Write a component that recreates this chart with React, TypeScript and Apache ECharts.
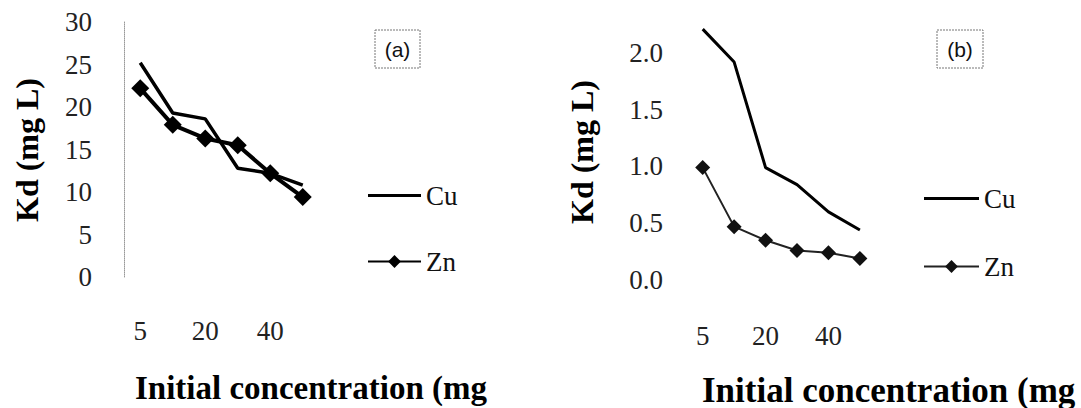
import React, { useEffect, useRef } from 'react';
import * as echarts from 'echarts';

const categories = ['5', '10', '20', '30', '40', '50'];
const cuA = [25.2, 19.3, 18.6, 12.8, 12.2, 10.8];
const znA = [22.2, 17.9, 16.3, 15.5, 12.2, 9.4];
const cuB = [2.21, 1.92, 0.99, 0.84, 0.6, 0.44];
const znB = [0.99, 0.47, 0.35, 0.26, 0.24, 0.19];
const yTitle = 'Kd (mg L)';
const xTitle = 'Initial concentration (mg';
const panelLabels = ['(a)', '(b)'];

const SERIF = 'Liberation Serif';
const SANS = 'Liberation Sans';
const CU_ICON = 'path://M0,0 M55,16 M0,6.5 L55,6.5 L55,9.5 L0,9.5 Z';

export default function App() {
  const ref = useRef<HTMLDivElement>(null);
  useEffect(() => {
    if (!ref.current) return;
    const chart = echarts.init(ref.current, undefined, { renderer: 'svg' });
    const tickText = { fontFamily: SERIF, fontSize: 27, color: '#222' };
    const option: any = {
      animation: false,
      backgroundColor: '#fff',
      textStyle: { fontFamily: SERIF },
      grid: [
        { left: 124, top: 22, width: 195, height: 255 },
        { left: 687, top: 24.6, width: 188.6, height: 255.4 },
      ],
      xAxis: [0, 1].map((i) => ({
        type: 'category',
        gridIndex: i,
        data: categories,
        boundaryGap: true,
        axisLine: { show: false },
        axisTick: { show: false },
        splitLine: { show: false },
        axisLabel: { ...tickText, interval: 1, margin: i === 0 ? 40 : 42 },
      })),
      yAxis: [
        {
          type: 'value',
          gridIndex: 0,
          min: 0,
          max: 30,
          interval: 5,
          axisLine: { show: true, lineStyle: { color: '#999', type: 'dotted', width: 1 } },
          axisTick: { show: false },
          splitLine: { show: false },
          axisLabel: { ...tickText, margin: 32 },
        },
        {
          type: 'value',
          gridIndex: 1,
          min: 0,
          max: 2.25,
          interval: 0.5,
          axisLine: { show: false },
          axisTick: { show: false },
          splitLine: { show: false },
          axisLabel: {
            ...tickText,
            margin: 24,
            showMaxLabel: false,
            formatter: (v: number) => v.toFixed(1),
          },
        },
      ],
      legend: [
        {
          orient: 'vertical',
          left: 362,
          top: 177,
          itemWidth: 53,
          itemHeight: 16,
          itemGap: 39,
          data: [{ name: 'Cu_a', icon: CU_ICON }, { name: 'Zn_a' }],
          formatter: (n: string) => n.split('_')[0],
          textStyle: { fontFamily: SERIF, fontSize: 27, color: '#111' },
        },
        {
          orient: 'vertical',
          left: 918,
          top: 180,
          itemWidth: 55,
          itemHeight: 16,
          itemGap: 41,
          data: [{ name: 'Cu_b', icon: CU_ICON }, { name: 'Zn_b' }],
          formatter: (n: string) => n.split('_')[0],
          textStyle: { fontFamily: SERIF, fontSize: 27, color: '#111' },
        },
      ],
      series: [
        {
          name: 'Cu_a', type: 'line', xAxisIndex: 0, yAxisIndex: 0, data: cuA,
          symbol: 'none', lineStyle: { color: '#000', width: 3.5 }, itemStyle: { color: '#000' },
        },
        {
          name: 'Zn_a', type: 'line', xAxisIndex: 0, yAxisIndex: 0, data: znA,
          symbol: 'diamond', symbolSize: 18,
          lineStyle: { color: '#000', width: 4 }, itemStyle: { color: '#000' },
        },
        {
          name: 'Cu_b', type: 'line', xAxisIndex: 1, yAxisIndex: 1, data: cuB,
          symbol: 'none', lineStyle: { color: '#000', width: 3 }, itemStyle: { color: '#000' },
        },
        {
          name: 'Zn_b', type: 'line', xAxisIndex: 1, yAxisIndex: 1, data: znB,
          symbol: 'diamond', symbolSize: 15,
          lineStyle: { color: '#222', width: 2 }, itemStyle: { color: '#111' },
        },
      ],
      graphic: [
        {
          type: 'text', x: 27, y: 150, rotation: Math.PI / 2,
          style: { text: yTitle, fontFamily: SERIF, fontSize: 32, fontWeight: 'bold', fill: '#000', align: 'center', verticalAlign: 'middle' },
        },
        {
          type: 'text', x: 582, y: 152, rotation: Math.PI / 2,
          style: { text: yTitle, fontFamily: SERIF, fontSize: 32, fontWeight: 'bold', fill: '#000', align: 'center', verticalAlign: 'middle' },
        },
        {
          type: 'text', x: 135, y: 388,
          style: { text: xTitle, fontFamily: SERIF, fontSize: 33, fontWeight: 'bold', fill: '#000', align: 'left', verticalAlign: 'middle' },
        },
        {
          type: 'text', x: 702, y: 390,
          style: { text: xTitle, fontFamily: SERIF, fontSize: 35, fontWeight: 'bold', fill: '#000', align: 'left', verticalAlign: 'middle' },
        },
        {
          type: 'rect', shape: { x: 375, y: 30, width: 45, height: 38 },
          style: { fill: 'none', stroke: '#777', lineWidth: 1, lineDash: [2, 1] },
        },
        {
          type: 'text', x: 397.5, y: 49,
          style: { text: panelLabels[0], fontFamily: SANS, fontSize: 21, fill: '#111', align: 'center', verticalAlign: 'middle' },
        },
        {
          type: 'rect', shape: { x: 937, y: 30, width: 46, height: 38 },
          style: { fill: 'none', stroke: '#777', lineWidth: 1, lineDash: [2, 1] },
        },
        {
          type: 'text', x: 960, y: 49,
          style: { text: panelLabels[1], fontFamily: SANS, fontSize: 21, fill: '#111', align: 'center', verticalAlign: 'middle' },
        },
      ],
    };
    chart.setOption(option);
    return () => chart.dispose();
  }, []);
  return (
    <div
      ref={ref}
      style={{ position: 'fixed', left: 0, top: 0, width: 1081, height: 408, background: '#fff' }}
    />
  );
}
